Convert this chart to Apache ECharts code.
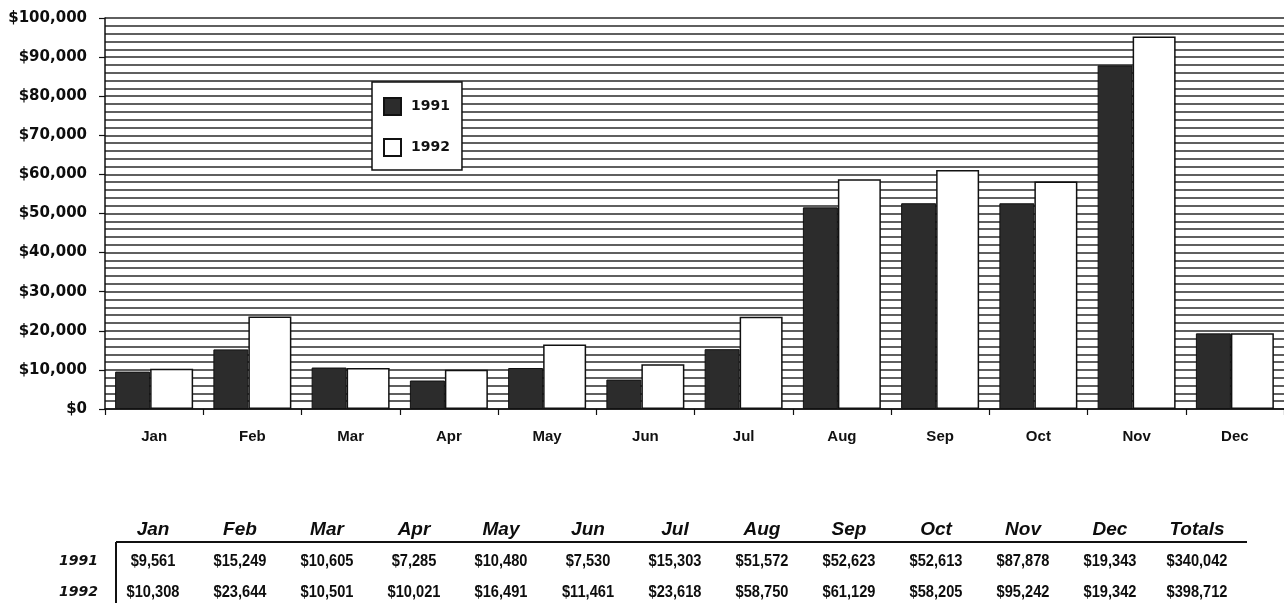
<!DOCTYPE html>
<html>
<head>
<meta charset="utf-8">
<title>Monthly Sales 1991 vs 1992</title>
<script src="https://cdn.jsdelivr.net/npm/echarts@6/dist/echarts.min.js"></script>
<style>
  html, body { margin: 0; padding: 0; background: #fff; }
  #chart { width: 1284px; height: 603px; }
</style>
</head>
<body>
<div id="chart"></div>
<script>
// Monthly sales figures
const months = ['Jan', 'Feb', 'Mar', 'Apr', 'May', 'Jun', 'Jul', 'Aug', 'Sep', 'Oct', 'Nov', 'Dec'];
const sales1991 = [9561, 15249, 10605, 7285, 10480, 7530, 15303, 51572, 52623, 52613, 87878, 19343];
const sales1992 = [10308, 23644, 10501, 10021, 16491, 11461, 23618, 58750, 61129, 58205, 95242, 19342];
const seriesNames = ['1991', '1992'];
const yTickStep = 10000;
const yMax = 100000;

const money = v => '$' + v.toLocaleString('en-US');
const sum = arr => arr.reduce((a, b) => a + b, 0);

// Summary table underneath the chart
const tableHeaders = months.concat(['Totals']);
const tableRows = [
  { label: seriesNames[0], values: sales1991.concat([sum(sales1991)]) },
  { label: seriesNames[1], values: sales1992.concat([sum(sales1992)]) }
];

const colStart = 153, colStep = 87;
const headerY = 530, ruleY = 542, rowY = [561, 592];
const graphics = [];

tableHeaders.forEach((h, i) => {
  graphics.push({
    type: 'text', x: colStart + i * colStep, y: headerY, silent: true,
    style: { text: h, align: 'center', verticalAlign: 'middle',
             font: 'italic bold 19px "Liberation Sans", Arial, sans-serif', fill: '#0d0d0d' }
  });
});
graphics.push({
  type: 'line', silent: true,
  shape: { x1: 116, y1: ruleY, x2: 1247, y2: ruleY },
  style: { stroke: '#111', lineWidth: 2 }
});
graphics.push({
  type: 'line', silent: true,
  shape: { x1: 116, y1: ruleY, x2: 116, y2: 603 },
  style: { stroke: '#111', lineWidth: 2 }
});
tableRows.forEach((row, r) => {
  graphics.push({
    type: 'text', x: 98, y: rowY[r], silent: true,
    style: { text: row.label, align: 'right', verticalAlign: 'middle',
             font: 'italic bold 14px "DejaVu Sans", sans-serif', fill: '#111' }
  });
  row.values.forEach((v, i) => {
    graphics.push({
      type: 'text', x: colStart + i * colStep, y: rowY[r], scaleX: 0.86, silent: true,
      style: { text: money(v), x: 0, y: 0, align: 'center', verticalAlign: 'middle',
               font: 'bold 17px "Liberation Sans", Arial, sans-serif', fill: '#0d0d0d' }
    });
  });
});

const chart = echarts.init(document.getElementById('chart'), null, { renderer: 'canvas' });

chart.setOption({
  backgroundColor: '#fff',
  animation: false,
  grid: { left: 105, right: 0, top: 18, bottom: 194, containLabel: false },
  legend: {
    data: seriesNames,
    orient: 'vertical',
    left: 372, top: 82,
    padding: [15, 12, 13, 11],
    itemWidth: 17, itemHeight: 17, itemGap: 22,
    backgroundColor: '#fff',
    borderColor: '#111', borderWidth: 1.5,
    icon: 'rect',
    textStyle: { fontFamily: '"DejaVu Sans", sans-serif', fontWeight: 'bold',
                 fontSize: 14, color: '#111', padding: [0, 0, 0, 5] }
  },
  xAxis: {
    type: 'category',
    data: months,
    boundaryGap: true,
    axisLine: { lineStyle: { color: '#111', width: 1.5 } },
    axisTick: { show: true, length: 6, lineStyle: { color: '#111', width: 1.2 } },
    axisLabel: { margin: 20, fontFamily: '"Liberation Sans", Arial, sans-serif',
                 fontWeight: 'bold', fontSize: 15, color: '#111' },
    splitLine: { show: false }
  },
  yAxis: {
    type: 'value',
    min: 0, max: yMax, interval: yTickStep,
    axisLine: { show: true, lineStyle: { color: '#111', width: 1.5 } },
    axisTick: { show: true, length: 6, lineStyle: { color: '#111', width: 1.2 } },
    axisLabel: { margin: 18, formatter: v => money(v),
                 fontFamily: '"DejaVu Sans", sans-serif', fontWeight: 'bold',
                 fontSize: 15, color: '#0d0d0d' },
    splitLine: { show: true, lineStyle: { color: '#2a2a2a', width: 1.7 } },
    minorTick: { show: false, splitNumber: 5 },
    minorSplitLine: { show: true, lineStyle: { color: '#2a2a2a', width: 1.7 } }
  },
  series: [
    {
      name: seriesNames[0], type: 'bar', data: sales1991,
      barWidth: 35, barGap: '0%',
      itemStyle: { color: '#2c2c2c', borderColor: '#111', borderWidth: 1 }
    },
    {
      name: seriesNames[1], type: 'bar', data: sales1992,
      barWidth: 43, barGap: '0%',
      itemStyle: { color: '#ffffff', borderColor: '#111', borderWidth: 1.5 }
    }
  ],
  graphic: graphics
});
</script>
</body>
</html>
